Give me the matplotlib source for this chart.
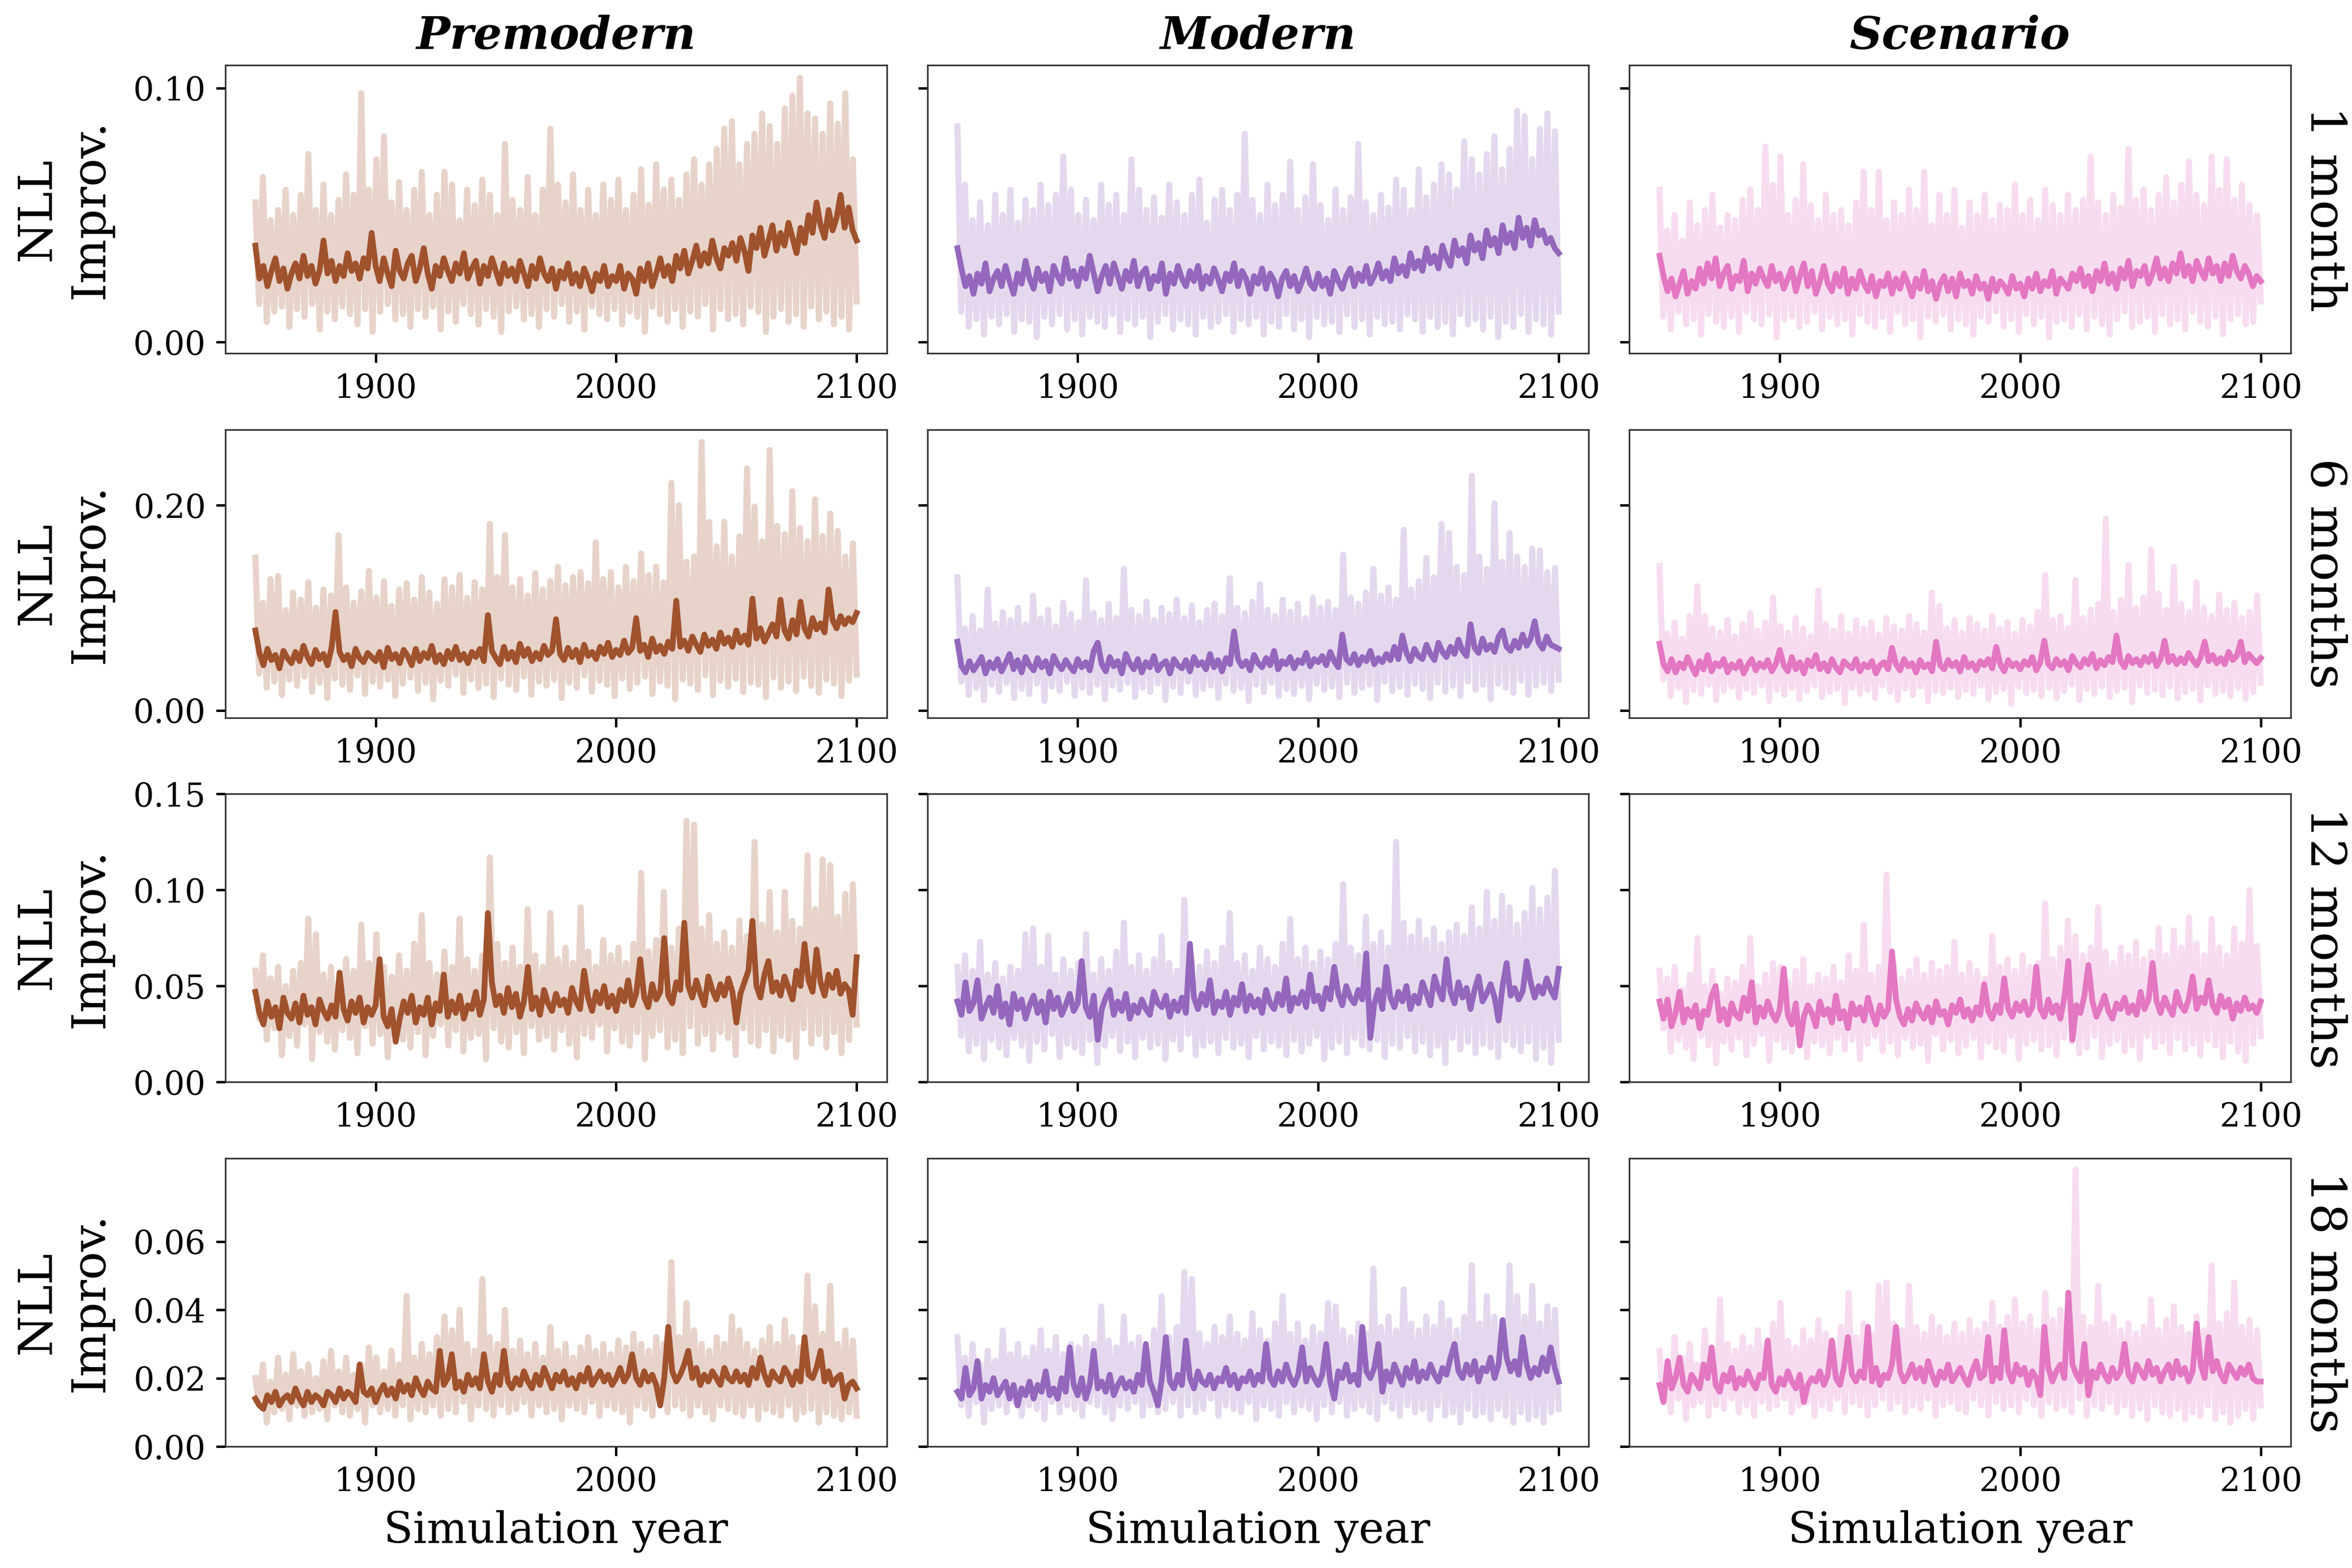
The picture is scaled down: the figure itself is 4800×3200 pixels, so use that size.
import numpy as np
import matplotlib
matplotlib.use("Agg")
import matplotlib.pyplot as plt
from matplotlib.ticker import FormatStrFormatter

plt.rcParams["font.family"] = ["DejaVu Serif"]

COLUMNS = ["Premodern", "Modern", "Scenario"]
ROWS = ["1 month", "6 months", "12 months", "18 months"]
COLORS = ["#a0522d", "#9467bd", "#e377c2"]
YEAR_START, YEAR_END = 1850, 2100
XTICKS = [1900, 2000, 2100]
YLIMS = [(-0.0044, 0.109), (-0.0072, 0.274), (0.0, 0.15), (0.0, 0.0843)]
YTICKS = [[0.0, 0.10], [0.0, 0.20], [0.0, 0.05, 0.10, 0.15], [0.0, 0.02, 0.04, 0.06]]
UNIT = 1e-3  # all series below are NLL improvement in units of 1e-3

# ---- 1 month ---------------------------------------------------------------
PRE_1M_MEAN = [38, 25, 30, 22, 28, 33, 24, 29, 21, 27, 31, 25, 34, 26, 30, 23, 28, 40, 27, 32,
               24, 30, 26, 35, 28, 31, 25, 33, 29, 43, 30, 24, 33, 27, 22, 36, 28, 25, 31, 34,
               24, 29, 37, 27, 21, 30, 26, 33, 28, 24, 31, 27, 35, 25, 29, 32, 23, 30, 26, 33,
               28, 23, 31, 26, 29, 24, 32, 27, 22, 30, 25, 33, 27, 24, 29, 21, 28, 25, 31, 23,
               27, 22, 29, 25, 20, 27, 24, 30, 22, 26, 24, 30, 21, 27, 25, 19, 29, 24, 31, 22,
               27, 33, 26, 30, 24, 34, 29, 36, 27, 32, 38, 30, 35, 31, 40, 33, 29, 37, 34, 39,
               32, 41, 36, 28, 42, 37, 45, 34, 40, 46, 36, 43, 38, 47, 41, 35, 45, 39, 50, 43,
               55, 46, 41, 52, 44, 49, 58, 45, 53, 44, 40]
PRE_1M_HIGH = [55, 65, 48, 52, 60, 50, 58, 74, 52, 62, 50, 56, 66, 58, 98, 60, 72, 81, 55, 63,
               52, 60, 67, 50, 58, 67, 62, 48, 60, 54, 64, 58, 50, 78, 56, 52, 65, 50, 60, 84,
               62, 55, 66, 52, 60, 50, 62, 56, 64, 52, 58, 68, 54, 70, 60, 64, 56, 66, 72, 62,
               70, 76, 84, 87, 70, 78, 82, 90, 85, 78, 92, 97, 104, 90, 88, 82, 94, 86, 98, 72]
PRE_1M_LOW = [15, 8, 12, 14, 6, 13, 10, 15, 5, 12, 9, 14, 11, 7, 13, 4, 12, 15, 9, 11,
              6, 13, 10, 14, 5, 12, 8, 15, 11, 7, 13, 10, 4, 12, 14, 9, 11, 6, 13, 10,
              15, 8, 12, 5, 14, 11, 9, 13, 7, 12, 10, 4, 14, 11, 8, 13, 6, 12, 10, 15,
              5, 13, 9, 11, 7, 14, 12, 4, 10, 13, 8, 11, 6, 14, 9, 12, 7, 10, 5, 16]

MOD_1M_MEAN = [37, 29, 22, 26, 19, 27, 23, 31, 20, 25, 28, 22, 30, 24, 19, 27, 23, 32, 25, 21,
               29, 24, 27, 20, 30, 26, 23, 33, 25, 28, 22, 29, 25, 34, 27, 20, 26, 30, 23, 31,
               26, 21, 28, 24, 32, 22, 27, 29, 21, 26, 24, 31, 19, 27, 23, 30, 25, 22, 28, 24,
               30, 21, 26, 23, 29, 25, 20, 27, 24, 31, 22, 28, 25, 19, 26, 23, 29, 21, 27, 24,
               18, 25, 28, 22, 26, 20, 24, 29, 23, 21, 27, 22, 25, 19, 28, 24, 21, 26, 29, 22,
               27, 24, 30, 23, 26, 31, 25, 28, 24, 33, 27, 30, 26, 35, 29, 32, 28, 37, 31, 34,
               29, 38, 33, 30, 40, 34, 37, 31, 42, 36, 39, 33, 44, 38, 41, 35, 46, 39, 43, 37,
               49, 41, 45, 38, 48, 42, 44, 39, 41, 37, 35]
MOD_1M_HIGH = [85, 62, 48, 55, 46, 58, 50, 60, 47, 56, 52, 62, 54, 58, 73, 60, 50, 56, 48, 62,
               54, 58, 50, 72, 60, 52, 57, 49, 62, 55, 50, 58, 64, 47, 56, 60, 52, 58, 82, 56,
               50, 62, 54, 58, 71, 52, 57, 70, 54, 48, 60, 52, 57, 78, 55, 50, 58, 53, 64, 60,
               52, 68, 57, 62, 70, 66, 60, 79, 72, 66, 74, 81, 68, 76, 91, 89, 72, 84, 90, 83]
MOD_1M_LOW = [12, 6, 9, 3, 10, 7, 11, 4, 9, 8, 2, 10, 7, 11, 5, 9, 3, 10, 8, 6,
              11, 4, 9, 7, 10, 2, 8, 11, 5, 9, 7, 3, 10, 6, 8, 11, 4, 9, 7, 10,
              3, 8, 6, 11, 5, 9, 2, 10, 7, 8, 4, 11, 6, 9, 3, 10, 7, 8, 5, 11,
              9, 4, 10, 6, 8, 3, 11, 7, 9, 5, 10, 2, 8, 6, 11, 4, 9, 7, 3, 12]

SCN_1M_MEAN = [34, 26, 20, 25, 18, 23, 28, 19, 24, 21, 29, 23, 31, 25, 33, 22, 27, 30, 21, 26,
               24, 32, 20, 27, 23, 29, 25, 22, 30, 24, 27, 21, 25, 29, 20, 26, 31, 22, 28, 19,
               24, 30, 23, 20, 27, 22, 29, 19, 25, 21, 28, 23, 20, 26, 18, 24, 22, 27, 19, 25,
               21, 27, 23, 18, 25, 21, 28, 20, 24, 17, 23, 26, 20, 25, 18, 27, 22, 24, 19, 26,
               21, 23, 17, 25, 20, 24, 22, 19, 26, 21, 23, 18, 25, 21, 27, 20, 24, 22, 28, 19,
               25, 23, 21, 27, 24, 29, 22, 26, 20, 28, 24, 31, 23, 27, 21, 29, 25, 32, 22, 28,
               26, 30, 23, 27, 33, 25, 29, 24, 31, 27, 35, 26, 30, 24, 32, 28, 25, 33, 27, 30,
               24, 31, 26, 34, 28, 25, 30, 27, 22, 26, 24]
SCN_1M_HIGH = [60, 44, 50, 40, 55, 46, 52, 58, 45, 50, 48, 56, 60, 52, 77, 62, 73, 50, 56, 70,
               54, 48, 58, 50, 52, 46, 55, 67, 52, 67, 48, 55, 50, 60, 52, 67, 46, 58, 50, 60,
               45, 55, 50, 58, 48, 54, 52, 62, 50, 56, 48, 60, 54, 50, 58, 52, 56, 73, 55, 50,
               58, 53, 76, 56, 60, 52, 58, 65, 55, 62, 71, 58, 54, 73, 60, 72, 56, 62, 54, 50]
SCN_1M_LOW = [10, 5, 12, 7, 9, 3, 11, 8, 6, 10, 4, 12, 9, 7, 11, 2, 9, 10, 6, 8,
              12, 5, 10, 7, 9, 3, 11, 8, 6, 10, 4, 12, 7, 9, 2, 10, 8, 11, 5, 9,
              7, 3, 10, 8, 12, 6, 9, 4, 11, 7, 10, 2, 8, 9, 6, 11, 5, 10, 7, 3,
              9, 12, 6, 8, 10, 4, 11, 7, 9, 5, 12, 8, 6, 10, 3, 9, 11, 7, 8, 16]

# ---- 6 months --------------------------------------------------------------
PRE_6M_MEAN = [78, 56, 44, 60, 49, 54, 41, 58, 51, 46, 57, 48, 63, 52, 45, 59, 50, 55, 44, 61,
               96, 57, 49, 54, 43, 60, 51, 47, 56, 52, 48, 57, 42, 61, 50, 55, 46, 59, 53, 44,
               60, 48, 56, 51, 63, 47, 54, 45, 58, 50, 62, 49, 55, 46, 57, 52, 60, 48, 93, 58,
               51, 45, 62, 50, 57, 47, 65, 53, 60, 48, 56, 50, 63, 54, 58, 89, 55, 49, 61, 52,
               59, 47, 64, 53, 57, 50, 62, 55, 66, 52, 59, 54, 68, 56, 61, 90, 58, 64, 52, 70,
               57, 63, 55, 67, 60, 107, 62, 68, 58, 72, 64, 57, 74, 63, 69, 60, 76, 65, 71, 62,
               78, 66, 73, 64, 109, 70, 80, 67, 75, 84, 72, 108, 78, 70, 88, 74, 106, 80, 72, 90,
               79, 85, 76, 118, 88, 80, 92, 84, 90, 86, 95]
PRE_6M_HIGH = [149, 105, 128, 131, 98, 115, 108, 125, 100, 118, 112, 171, 120, 105, 116, 136,
               110, 126, 102, 118, 124, 108, 130, 115, 104, 128, 120, 132, 110, 125, 118, 182,
               130, 171, 120, 128, 112, 134, 118, 126, 140, 122, 130, 135, 124, 164, 128, 135,
               120, 140, 126, 153, 132, 140, 125, 222, 200, 145, 150, 262, 184, 160, 184, 150,
               170, 236, 199, 165, 254, 180, 172, 214, 178, 165, 206, 170, 192, 175, 150, 163]
PRE_6M_LOW = [36, 22, 28, 15, 30, 24, 33, 18, 27, 12, 31, 25, 20, 34, 16, 28, 23, 30, 14, 26,
              32, 19, 27, 11, 29, 24, 35, 17, 30, 22, 26, 13, 31, 25, 20, 33, 15, 28, 24, 30,
              12, 27, 22, 34, 18, 29, 25, 14, 31, 21, 27, 33, 16, 28, 24, 11, 30, 26, 20, 34,
              15, 29, 23, 31, 18, 27, 25, 13, 32, 22, 28, 19, 33, 24, 17, 30, 26, 14, 29, 35]

MOD_6M_MEAN = [67, 43, 37, 48, 39, 45, 52, 36, 47, 41, 50, 38, 46, 55, 40, 49, 37, 52, 44, 39,
               51, 42, 48, 36, 53, 45, 40, 49, 43, 38, 50, 42, 47, 39, 58, 66, 45, 38, 52, 43,
               48, 36, 55, 46, 40, 50, 37, 47, 42, 53, 39, 45, 48, 36, 50, 44, 41, 49, 38, 52,
               44, 47, 40, 55, 42, 49, 38, 51, 45, 77, 50, 43, 48, 39, 54, 46, 42, 51, 44, 58,
               40, 48, 45, 52, 41, 49, 46, 56, 43, 50, 47, 53, 44, 57, 48, 42, 74, 50, 46, 55,
               44, 52, 48, 58, 45, 51, 47, 55, 49, 62, 50, 73, 56, 48, 60, 53, 50, 64, 55, 49,
               66, 57, 52, 62, 55, 69, 58, 53, 84, 61, 56, 70, 59, 64, 57, 72, 78, 62, 58, 68,
               61, 74, 63, 70, 87, 66, 60, 72, 64, 62, 60]
MOD_6M_HIGH = [130, 80, 92, 78, 118, 85, 96, 88, 100, 84, 112, 90, 98, 82, 105, 94, 86, 127,
               95, 88, 104, 90, 138, 98, 92, 106, 88, 100, 94, 108, 90, 102, 86, 98, 104, 92,
               129, 100, 95, 106, 123, 98, 92, 108, 96, 104, 90, 110, 100, 106, 98, 152, 110,
               104, 115, 138, 112, 120, 108, 176, 118, 126, 149, 130, 182, 173, 140, 132, 229,
               150, 138, 202, 145, 173, 150, 140, 158, 156, 135, 139]
MOD_6M_LOW = [28, 15, 22, 10, 25, 18, 27, 12, 21, 16, 26, 9, 23, 19, 28, 14, 22, 17, 25, 11,
              24, 20, 27, 13, 22, 18, 26, 10, 23, 17, 28, 15, 21, 24, 12, 26, 19, 22, 9, 25,
              18, 27, 14, 21, 16, 24, 11, 26, 20, 23, 13, 27, 17, 22, 25, 10, 28, 19, 23, 15,
              26, 21, 12, 27, 18, 24, 14, 28, 20, 25, 11, 26, 22, 17, 29, 15, 24, 27, 19, 30]

SCN_6M_MEAN = [65, 45, 38, 50, 37, 46, 41, 52, 43, 35, 48, 40, 54, 38, 46, 43, 50, 37, 45, 41,
               48, 36, 44, 50, 39, 46, 42, 49, 38, 45, 59, 44, 38, 52, 40, 47, 36, 49, 43, 54,
               40, 46, 38, 50, 42, 37, 48, 44, 41, 50, 38, 45, 42, 48, 36, 44, 47, 40, 61, 45,
               39, 50, 43, 46, 37, 49, 42, 45, 38, 67, 44, 40, 49, 43, 47, 38, 52, 42, 46, 39,
               48, 44, 50, 41, 62, 45, 38, 49, 43, 46, 40, 48, 44, 52, 39, 47, 68, 45, 41, 50,
               44, 48, 39, 53, 46, 42, 50, 45, 55, 41, 49, 44, 52, 47, 73, 48, 42, 53, 46, 50,
               44, 52, 47, 55, 43, 50, 68, 47, 53, 45, 51, 46, 56, 49, 44, 52, 67, 48, 54, 46,
               51, 45, 57, 49, 53, 67, 47, 55, 50, 46, 51]
SCN_6M_HIGH = [141, 75, 86, 70, 92, 121, 92, 80, 76, 88, 72, 84, 95, 78, 86, 110, 82, 76, 90, 80,
               72, 117, 84, 78, 92, 75, 88, 80, 86, 74, 90, 82, 78, 92, 84, 76, 115, 102, 80, 88,
               76, 90, 84, 78, 92, 80, 86, 75, 88, 82, 96, 132, 88, 92, 80, 127, 90, 98, 104, 187,
               96, 108, 142, 100, 110, 157, 114, 98, 140, 104, 96, 125, 100, 92, 113, 98, 105, 90,
               96, 112]
SCN_6M_LOW = [30, 14, 22, 8, 20, 16, 25, 10, 19, 23, 12, 21, 17, 24, 9, 20, 15, 22, 11, 19,
              24, 13, 18, 21, 7, 22, 16, 20, 12, 24, 18, 10, 21, 15, 23, 9, 19, 17, 22, 13,
              20, 16, 24, 11, 18, 21, 6, 23, 17, 20, 14, 22, 12, 19, 25, 10, 21, 16, 23, 13,
              19, 22, 8, 24, 17, 20, 15, 23, 12, 18, 21, 10, 24, 16, 19, 14, 22, 11, 18, 27]

# ---- 12 months -------------------------------------------------------------
PRE_12M_MEAN = [47, 36, 30, 42, 34, 39, 28, 44, 36, 33, 41, 31, 45, 35, 39, 30, 43, 37, 33, 40,
                34, 57, 38, 32, 42, 36, 44, 31, 39, 35, 40, 64, 34, 29, 38, 21, 33, 42, 36, 45,
                31, 39, 35, 44, 30, 41, 37, 56, 34, 42, 36, 45, 33, 40, 38, 47, 35, 43, 88, 52,
                40, 45, 36, 49, 39, 46, 34, 42, 60, 38, 44, 35, 48, 41, 37, 46, 40, 43, 36, 49,
                42, 38, 58, 44, 37, 47, 41, 50, 39, 45, 37, 48, 42, 53, 40, 46, 64, 44, 39, 51,
                43, 47, 75, 45, 41, 52, 48, 83, 50, 44, 53, 46, 40, 55, 48, 43, 51, 45, 54, 47,
                31, 46, 52, 58, 84, 50, 44, 56, 63, 47, 52, 45, 55, 49, 43, 58, 50, 72, 53, 47,
                69, 52, 45, 56, 49, 58, 46, 51, 48, 35, 65]
PRE_12M_HIGH = [58, 66, 54, 60, 50, 58, 62, 85, 77, 56, 60, 52, 64, 58, 82, 62, 77, 60, 55, 66,
                58, 72, 87, 62, 56, 68, 60, 85, 64, 58, 66, 117, 72, 62, 70, 60, 90, 66, 60, 88,
                64, 70, 62, 91, 68, 60, 74, 66, 70, 62, 72, 109, 68, 74, 99, 70, 80, 136, 134, 80,
                87, 72, 78, 70, 84, 76, 125, 82, 99, 78, 99, 84, 80, 118, 90, 116, 113, 86, 98, 103]
PRE_12M_LOW = [33, 22, 28, 14, 24, 19, 30, 12, 26, 21, 17, 27, 23, 15, 29, 20, 25, 13, 28, 22,
               18, 26, 14, 24, 30, 19, 27, 16, 23, 25, 12, 28, 21, 18, 26, 15, 29, 22, 24, 17,
               27, 20, 13, 25, 23, 30, 16, 28, 21, 19, 26, 12, 24, 27, 18, 22, 15, 29, 20, 25,
               17, 26, 23, 14, 28, 21, 19, 27, 16, 24, 22, 13, 28, 20, 25, 18, 26, 15, 22, 30]

MOD_12M_MEAN = [42, 35, 52, 37, 41, 53, 33, 39, 44, 36, 50, 34, 41, 30, 46, 38, 43, 33, 40, 45,
                36, 42, 31, 47, 38, 44, 35, 40, 46, 37, 41, 63, 39, 34, 45, 22, 38, 44, 48, 35,
                42, 37, 46, 33, 40, 36, 43, 38, 35, 47, 41, 39, 45, 34, 42, 37, 44, 36, 72, 44,
                38, 46, 40, 53, 36, 42, 39, 47, 35, 44, 40, 51, 37, 45, 39, 43, 36, 48, 41, 38,
                46, 40, 54, 37, 44, 41, 47, 39, 56, 42, 45, 38, 49, 43, 60, 46, 40, 50, 44, 41,
                48, 43, 67, 23, 41, 48, 38, 60, 44, 39, 47, 42, 50, 38, 45, 41, 52, 46, 40, 55,
                48, 43, 64, 47, 41, 52, 44, 49, 38, 48, 55, 42, 46, 51, 44, 32, 50, 62, 45, 49,
                43, 47, 63, 52, 44, 50, 46, 54, 48, 44, 59]
MOD_12M_HIGH = [60, 66, 58, 73, 56, 62, 54, 60, 58, 77, 80, 60, 76, 56, 64, 58, 62, 77, 56, 64,
                58, 68, 83, 60, 66, 58, 64, 76, 62, 58, 95, 64, 60, 68, 62, 70, 88, 62, 66, 58,
                70, 64, 60, 72, 85, 64, 70, 62, 68, 64, 72, 103, 70, 66, 86, 72, 78, 70, 125, 83,
                76, 84, 74, 80, 72, 78, 82, 76, 91, 80, 99, 84, 97, 91, 82, 88, 101, 90, 96, 110]
MOD_12M_LOW = [24, 16, 20, 12, 22, 18, 14, 23, 19, 11, 21, 17, 25, 13, 20, 18, 15, 22, 10, 19,
               24, 16, 21, 13, 23, 18, 20, 12, 22, 17, 25, 14, 19, 21, 15, 23, 18, 20, 13, 24,
               17, 21, 19, 14, 22, 16, 20, 24, 12, 18, 21, 15, 23, 19, 17, 22, 13, 20, 18, 24,
               16, 21, 14, 19, 10, 23, 17, 21, 15, 20, 18, 13, 22, 19, 16, 21, 12, 18, 10, 22]

SCN_12M_MEAN = [42, 33, 43, 29, 36, 47, 31, 38, 34, 40, 28, 37, 35, 45, 50, 32, 38, 30, 41, 35,
                33, 44, 37, 52, 31, 39, 34, 42, 36, 32, 38, 59, 35, 30, 41, 19, 34, 40, 36, 29,
                42, 35, 38, 31, 45, 33, 37, 28, 41, 35, 39, 32, 44, 36, 30, 40, 34, 38, 68, 43,
                34, 30, 38, 32, 41, 36, 33, 39, 31, 42, 35, 37, 30, 40, 36, 43, 34, 38, 32, 39,
                35, 51, 37, 33, 40, 36, 54, 38, 34, 41, 37, 42, 35, 39, 60, 38, 34, 43, 36, 40,
                33, 44, 63, 22, 40, 36, 45, 61, 42, 34, 39, 45, 37, 33, 41, 38, 44, 36, 40, 35,
                47, 38, 43, 62, 42, 36, 44, 39, 35, 47, 40, 37, 43, 55, 38, 44, 41, 53, 40, 36,
                45, 39, 43, 33, 41, 37, 44, 38, 40, 36, 42]
SCN_12M_HIGH = [58, 54, 60, 48, 56, 75, 50, 58, 46, 54, 52, 60, 75, 50, 56, 62, 60, 52, 58, 64,
                50, 56, 54, 60, 52, 66, 58, 82, 56, 60, 108, 62, 54, 58, 64, 56, 62, 58, 60, 73,
                56, 62, 58, 54, 76, 60, 64, 58, 66, 60, 62, 93, 64, 70, 84, 76, 66, 70, 91, 68,
                62, 70, 66, 73, 64, 68, 80, 66, 79, 70, 86, 72, 66, 85, 70, 66, 80, 72, 100, 71]
SCN_12M_LOW = [28, 16, 22, 18, 12, 24, 19, 10, 21, 17, 23, 14, 20, 25, 11, 22, 18, 16, 24, 13,
               21, 19, 15, 23, 17, 22, 12, 20, 24, 16, 21, 14, 23, 18, 20, 11, 25, 17, 22, 15,
               19, 23, 13, 21, 18, 16, 24, 12, 20, 22, 17, 19, 14, 23, 21, 15, 18, 24, 13, 20,
               22, 16, 19, 12, 24, 18, 21, 15, 23, 17, 20, 14, 22, 19, 13, 21, 16, 11, 20, 24]

# ---- 18 months -------------------------------------------------------------
PRE_18M_MEAN = [14, 12, 11, 15, 13, 16, 12, 14, 15, 13, 17, 14, 12, 16, 13, 15, 14, 12, 16, 15,
                13, 17, 14, 16, 15, 13, 24, 16, 15, 17, 13, 16, 18, 15, 17, 14, 19, 16, 18, 15,
                20, 17, 15, 19, 17, 16, 28, 18, 20, 27, 17, 19, 16, 21, 18, 20, 17, 27, 19, 16,
                21, 18, 28, 19, 17, 20, 18, 22, 19, 17, 21, 18, 23, 20, 17, 21, 19, 22, 18, 20,
                17, 21, 19, 23, 18, 20, 22, 19, 21, 18, 20, 23, 19, 21, 27, 20, 18, 22, 19, 21,
                18, 12, 20, 35, 22, 19, 21, 24, 28, 20, 23, 18, 21, 19, 22, 20, 18, 23, 20, 19,
                22, 19, 21, 18, 23, 20, 26, 21, 18, 22, 20, 19, 23, 21, 18, 22, 19, 32, 21, 20,
                23, 28, 19, 22, 18, 20, 21, 14, 18, 19, 17]
PRE_18M_HIGH = [20, 24, 19, 26, 21, 27, 22, 24, 20, 25, 28, 22, 26, 21, 24, 29, 26, 22, 28, 24,
                44, 26, 30, 27, 32, 38, 34, 40, 30, 28, 49, 32, 30, 40, 28, 31, 27, 30, 26, 35,
                28, 30, 26, 29, 32, 28, 30, 27, 31, 29, 33, 30, 28, 32, 30, 54, 32, 42, 34, 30,
                28, 32, 30, 38, 34, 30, 28, 31, 35, 30, 37, 32, 29, 50, 41, 33, 47, 30, 34, 31]
PRE_18M_LOW = [12, 7, 10, 11, 8, 12, 9, 10, 11, 8, 12, 10, 9, 11, 7, 12, 10, 11, 9, 12,
               8, 11, 10, 12, 9, 11, 10, 13, 8, 12, 11, 9, 12, 10, 11, 13, 9, 12, 10, 11,
               8, 12, 11, 10, 13, 9, 12, 11, 10, 7, 12, 11, 9, 13, 10, 12, 11, 9, 12, 10,
               8, 12, 11, 10, 9, 12, 8, 11, 10, 9, 12, 8, 10, 11, 7, 10, 9, 8, 10, 9]

MOD_18M_MEAN = [16, 14, 23, 15, 17, 25, 14, 18, 16, 20, 15, 17, 19, 14, 18, 12, 17, 15, 19, 14,
                18, 16, 22, 15, 17, 14, 20, 16, 29, 18, 15, 20, 14, 18, 28, 17, 19, 16, 21, 15,
                18, 20, 17, 19, 16, 21, 18, 30, 19, 16, 12, 20, 32, 19, 17, 21, 18, 31, 20, 17,
                22, 19, 18, 21, 17, 20, 19, 23, 18, 21, 17, 20, 19, 22, 18, 21, 19, 30, 20, 18,
                22, 19, 24, 20, 18, 21, 29, 19, 23, 20, 18, 21, 30, 19, 14, 22, 20, 24, 19, 21,
                18, 35, 22, 20, 23, 30, 16, 22, 19, 24, 21, 18, 23, 20, 25, 19, 22, 20, 24, 21,
                19, 23, 21, 26, 30, 22, 20, 24, 21, 25, 19, 23, 22, 26, 20, 24, 37, 26, 22, 25,
                21, 32, 24, 20, 23, 21, 26, 22, 29, 23, 19]
MOD_18M_HIGH = [32, 26, 30, 24, 28, 25, 34, 27, 30, 26, 29, 34, 28, 32, 27, 30, 29, 32, 30, 41,
                31, 29, 38, 30, 32, 29, 34, 44, 32, 35, 51, 49, 33, 30, 35, 32, 38, 33, 31, 39,
                34, 31, 36, 44, 33, 36, 31, 35, 33, 42, 41, 34, 32, 36, 33, 52, 35, 38, 34, 46,
                36, 34, 38, 35, 42, 37, 34, 38, 53, 36, 44, 38, 36, 53, 44, 38, 47, 36, 41, 40]
MOD_18M_LOW = [12, 9, 13, 7, 11, 12, 10, 13, 9, 12, 11, 8, 13, 10, 12, 11, 9, 13, 12, 10,
               8, 12, 11, 13, 9, 12, 10, 11, 13, 9, 12, 10, 11, 14, 9, 12, 11, 10, 13, 8,
               12, 11, 9, 13, 10, 12, 11, 8, 12, 10, 13, 9, 11, 12, 10, 8, 13, 11, 9, 12,
               10, 11, 8, 12, 9, 10, 7, 11, 9, 10, 8, 11, 9, 7, 10, 8, 9, 7, 10, 11]

SCN_18M_MEAN = [18, 13, 25, 17, 20, 26, 18, 16, 21, 19, 17, 24, 20, 29, 18, 16, 21, 19, 23, 17,
                20, 18, 22, 19, 17, 21, 20, 31, 18, 16, 20, 18, 22, 19, 17, 21, 13, 18, 20, 19,
                22, 18, 21, 31, 20, 18, 23, 32, 21, 19, 22, 20, 35, 19, 23, 18, 21, 20, 24, 35,
                22, 19, 21, 24, 20, 23, 19, 25, 21, 18, 22, 20, 24, 19, 21, 23, 20, 18, 22, 25,
                20, 21, 32, 19, 23, 20, 34, 22, 19, 24, 21, 23, 18, 22, 20, 15, 35, 23, 19, 22,
                24, 20, 45, 24, 21, 19, 30, 15, 22, 20, 24, 21, 19, 23, 20, 22, 30, 21, 19, 24,
                22, 20, 25, 21, 23, 19, 22, 24, 20, 25, 21, 23, 19, 22, 36, 24, 20, 32, 22, 25,
                21, 19, 24, 22, 20, 23, 21, 24, 20, 19, 19]
SCN_18M_HIGH = [28, 24, 32, 26, 30, 24, 34, 27, 43, 30, 28, 32, 29, 34, 30, 36, 42, 31, 29, 34,
                31, 37, 33, 30, 35, 45, 32, 36, 33, 47, 48, 36, 34, 47, 35, 33, 38, 35, 32, 36,
                33, 37, 34, 36, 42, 35, 38, 43, 36, 38, 34, 45, 37, 40, 36, 81, 38, 35, 47, 36,
                38, 34, 36, 33, 35, 43, 34, 37, 41, 35, 33, 38, 34, 53, 36, 39, 48, 35, 37, 34]
SCN_18M_LOW = [13, 10, 14, 8, 12, 13, 9, 12, 11, 14, 10, 12, 9, 13, 11, 12, 14, 10, 12, 13,
               9, 12, 11, 14, 10, 13, 12, 9, 12, 14, 11, 13, 10, 12, 11, 14, 9, 12, 13, 11,
               10, 14, 12, 9, 13, 11, 12, 10, 14, 12, 9, 13, 11, 12, 10, 14, 9, 12, 11, 13,
               10, 12, 9, 11, 8, 12, 10, 9, 11, 8, 10, 9, 12, 8, 10, 7, 9, 11, 8, 12]

SERIES = [
    [(PRE_1M_MEAN, PRE_1M_HIGH, PRE_1M_LOW), (MOD_1M_MEAN, MOD_1M_HIGH, MOD_1M_LOW),
     (SCN_1M_MEAN, SCN_1M_HIGH, SCN_1M_LOW)],
    [(PRE_6M_MEAN, PRE_6M_HIGH, PRE_6M_LOW), (MOD_6M_MEAN, MOD_6M_HIGH, MOD_6M_LOW),
     (SCN_6M_MEAN, SCN_6M_HIGH, SCN_6M_LOW)],
    [(PRE_12M_MEAN, PRE_12M_HIGH, PRE_12M_LOW), (MOD_12M_MEAN, MOD_12M_HIGH, MOD_12M_LOW),
     (SCN_12M_MEAN, SCN_12M_HIGH, SCN_12M_LOW)],
    [(PRE_18M_MEAN, PRE_18M_HIGH, PRE_18M_LOW), (MOD_18M_MEAN, MOD_18M_HIGH, MOD_18M_LOW),
     (SCN_18M_MEAN, SCN_18M_HIGH, SCN_18M_LOW)],
]


def plot_panel(ax, mean, high, low, color):
    """Light spiky spread line (alternating peaks/troughs) plus bold mean line."""
    n = min(len(high), len(low))
    spread = np.column_stack([high[:n], low[:n]]).ravel() * UNIT
    ax.plot(np.linspace(YEAR_START, YEAR_END, spread.size), spread,
            color=color, alpha=0.25, linewidth=3.0)
    mean = np.asarray(mean) * UNIT
    ax.plot(np.linspace(YEAR_START, YEAR_END, mean.size), mean,
            color=color, linewidth=2.8)


fig, axes = plt.subplots(4, 3, figsize=(16, 32 / 3), sharey="row")
fig.subplots_adjust(left=0.0958, right=0.974, top=0.9584, bottom=0.0775,
                    wspace=0.0615, hspace=0.265)

for r in range(len(ROWS)):
    for c in range(len(COLUMNS)):
        ax = axes[r, c]
        mean, high, low = SERIES[r][c]
        plot_panel(ax, mean, high, low, COLORS[c])

        ax.set_xlim(1837.5, 2112.5)
        ax.set_xticks(XTICKS)
        ax.set_ylim(*YLIMS[r])
        ax.set_yticks(YTICKS[r])
        ax.yaxis.set_major_formatter(FormatStrFormatter("%.2f"))
        ax.tick_params(labelsize=16, length=4.5, width=1.2, pad=5)
        for sp in ax.spines.values():
            sp.set_linewidth(0.8)
            sp.set_color("0.2")

        if r == 0:
            ax.set_title(COLUMNS[c], fontsize=22, fontweight="bold",
                         fontstyle="italic", pad=8)
        if r == len(ROWS) - 1:
            ax.set_xlabel("Simulation year", fontsize=21, labelpad=6)
        if c == 0:
            ax.set_ylabel("NLL\nImprov.", fontsize=23)
            ax.yaxis.set_label_coords(-0.17, 0.5)
        if c == len(COLUMNS) - 1:
            ax.text(1.015, 0.5, ROWS[r], transform=ax.transAxes, rotation=270,
                    ha="left", va="center", fontsize=24)

fig.savefig("out.png", dpi=300)
